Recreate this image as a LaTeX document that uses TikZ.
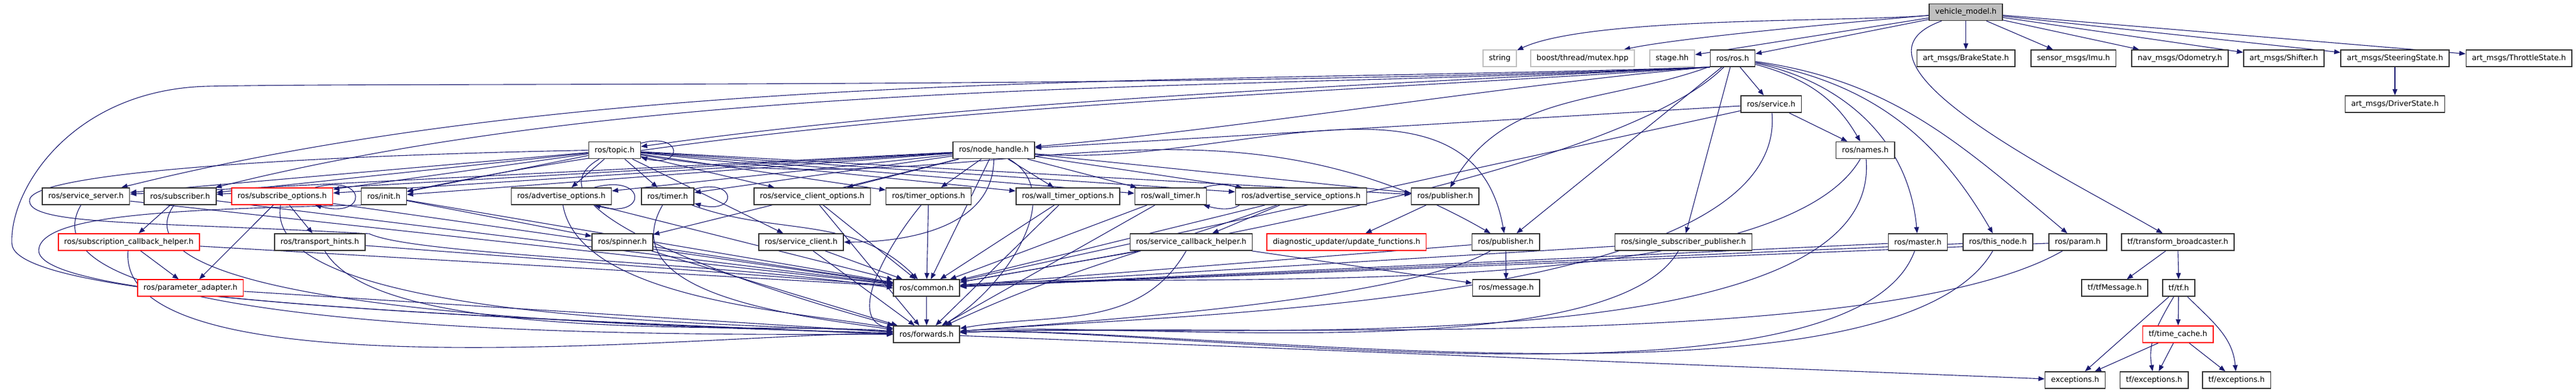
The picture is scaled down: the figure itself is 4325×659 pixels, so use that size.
\documentclass[tikz,border=0pt]{standalone}
\usepackage{fontspec}
\setmainfont{DejaVu Sans}
\usetikzlibrary{arrows.meta,backgrounds}
\definecolor{edgeblue}{HTML}{191970}
\definecolor{boxgray}{HTML}{BFBFBF}

\begin{document}
\begin{tikzpicture}[x=0.25pt,y=-0.25pt,
    file/.style={draw=black!80,line width=0.4pt,fill=white,minimum height=7pt,
        inner xsep=2.5pt,inner ysep=0pt,font=\fontsize{3.175}{3.8}\selectfont},
    redfile/.style={file,draw=red},
    sysfile/.style={file,draw=boxgray},
    rootfile/.style={file,fill=boxgray},
    dep/.style={draw=edgeblue,line width=0.28pt,-{Triangle[length=2.6pt,width=2pt]}},
    every loop/.style={min distance=7.5pt}]
    \useasboundingbox (0,0) rectangle (4325,659);

        \node[rootfile] (vm) at (3300.6,20.4) {vehicle\_model.h};

        \node[sysfile] (str) at (2518,98) {string};
        \node[sysfile] (mtx) at (2657,98) {boost/thread/mutex.hpp};
        \node[sysfile] (stg) at (2807.5,98) {stage.hh};
        \node[file] (ros) at (2909,98) {ros/ros.h};
        \node[file] (brk) at (3300.6,98) {art\_msgs/BrakeState.h};
        \node[file] (imu) at (3481.3,98) {sensor\_msgs/Imu.h};
        \node[file] (odom) at (3660,98) {nav\_msgs/Odometry.h};
        \node[file] (shft) at (3834.4,98) {art\_msgs/Shifter.h};
        \node[file] (steer) at (4021,98) {art\_msgs/SteeringState.h};
        \node[file] (thr) at (4229.2,98) {art\_msgs/ThrottleState.h};

        \node[file] (srvc) at (2973.7,175) {ros/service.h};
        \node[file] (drv) at (4021,175) {art\_msgs/DriverState.h};

        \node[file] (topic) at (1031.8,252.6) {ros/topic.h};
        \node[file] (nh) at (1668.5,252.6) {ros/node\_handle.h};
        \node[file] (names) at (3131.8,252.6) {ros/names.h};

        \node[file] (ssrv) at (144.4,330) {ros/service\_server.h};
        \node[file] (sub) at (302.4,330) {ros/subscriber.h};
        \node[redfile] (subo) at (473.7,330) {ros/subscribe\_options.h};
        \node[file] (init) at (644.5,330) {ros/init.h};
        \node[file] (advo) at (942.5,330) {ros/advertise\_options.h};
        \node[file] (timer) at (1121,330) {ros/timer.h};
        \node[file] (sco) at (1363.6,330) {ros/service\_client\_options.h};
        \node[file] (tmo) at (1559,330) {ros/timer\_options.h};
        \node[file] (wtmo) at (1793,330) {ros/wall\_timer\_options.h};
        \node[file] (wtm) at (1965.3,330) {ros/wall\_timer.h};
        \node[file] (aso) at (2184.3,330) {ros/advertise\_service\_options.h};
        \node[file] (pubA) at (2426.3,330) {ros/publisher.h};

        \node[redfile] (sch) at (216.3,407) {ros/subscription\_callback\_helper.h};
        \node[file] (thint) at (536.8,407) {ros/transport\_hints.h};
        \node[file] (spin) at (1045,407) {ros/spinner.h};
        \node[file] (sclient) at (1345,407) {ros/service\_client.h};
        \node[file] (svcb) at (2000,407) {ros/service\_callback\_helper.h};
        \node[redfile] (diag) at (2260.8,407) {diagnostic\_updater/update\_functions.h};
        \node[file] (pubB) at (2528,407) {ros/publisher.h};
        \node[file] (ssp) at (2826.5,407) {ros/single\_subscriber\_publisher.h};
        \node[file] (master) at (3220,407) {ros/master.h};
        \node[file] (thisn) at (3354.3,407) {ros/this\_node.h};
        \node[file] (param) at (3488.5,407) {ros/param.h};
        \node[file] (tfb) at (3656.5,407) {tf/transform\_broadcaster.h};

        \node[redfile] (padp) at (319.8,484.2) {ros/parameter\_adapter.h};
        \node[file] (common) at (1555.7,484.2) {ros/common.h};
        \node[file] (msg) at (2528.7,484.2) {ros/message.h};
        \node[file] (tfmsg) at (3550.5,484.2) {tf/tfMessage.h};
        \node[file] (tf) at (3658,484.2) {tf/tf.h};

        \node[file] (fwd) at (1555.7,562) {ros/forwards.h};
        \node[redfile] (tcache) at (3656.7,562) {tf/time\_cache.h};

        \node[file] (exc) at (3484,639) {exceptions.h};
        \node[file] (tfexcA) at (3616.7,639) {tf/exceptions.h};
        \node[file] (tfexcB) at (3755,639) {tf/exceptions.h};

    \begin{scope}[on background layer,every edge/.style={dep}]
        % vehicle_model.h
        \path (vm) edge[out=185,in=25,looseness=0.5] (str);
        \path (vm) edge[out=185,in=12,looseness=0.5] (mtx);
        \path (vm) edge (stg);
        \path (vm) edge (ros);
        \path (vm) edge (brk);
        \path (vm) edge (imu);
        \path (vm) edge (odom);
        \path (vm) edge (shft);
        \path (vm) edge (steer);
        \path (vm) edge (thr);
        \path (vm) edge[out=-160,in=150] (tfb);
        \path (steer) edge (drv);

        % ros/ros.h
        \path (ros) edge (srvc);
        \path (ros) edge (ssp);
        \path (ros) edge (pubB);
        \path (ros) edge[out=-160,in=60] (pubA);
        \path (ros) edge[out=-15,in=120] (names);
        \path (ros) edge[out=-12,in=95] (master);
        \path (ros) edge[out=-10,in=120] (thisn);
        \path (ros) edge[out=-8,in=140] (param);
        \path (ros.south west) edge[out=183,in=8,looseness=0.8] (topic);
        \path (ros.south west) edge[out=185,in=5,looseness=0.8] (nh);
        \path (ros.south west) edge[out=182,in=14,looseness=0.8] (ssrv);
        \path (ros.south west) edge[out=183,in=14,looseness=0.8] (sub);
        \path (ros.south west) edge[out=184,in=12,looseness=0.8] (init);
        \path (ros) edge[out=-135,in=10,looseness=0.5] (common);
        \draw[dep] (ros.south west) .. controls (2000,150) and (700,138) .. (350,145)
            .. controls (120,150) and (15,320) .. (20,410)
            .. controls (25,510) and (900,535) .. (fwd.west);

        % ros/service.h and the row below ros.h
        \path (srvc) edge (names);
        \path (srvc) edge (nh);
        \path (srvc) edge (common);
        \path (srvc) edge[out=-85,in=5,looseness=0.6] (fwd);
        \path (names) edge[out=-120,in=5,looseness=0.5] (common);
        \path (names) edge[out=-85,in=3,looseness=0.6] (fwd);
        \path (master) edge (common);
        \path (master) edge[out=-110,in=3,looseness=0.5] (fwd);
        \path (thisn) edge (common);
        \path (thisn) edge[out=-120,in=3,looseness=0.5] (fwd);
        \path (param) edge (common);
        \path (param) edge[out=-150,in=3,looseness=0.5] (fwd);
        \path (ssp) edge (common);
        \path (ssp) edge[out=-120,in=5,looseness=0.5] (fwd);

        % publishers, services
        \path (pubB) edge (msg);
        \path (pubB) edge (common);
        \path (pubB) edge[out=-150,in=5,looseness=0.5] (fwd);
        \path (pubA) edge (diag);
        \path (svcb) edge (msg);
        \path (svcb) edge (common);
        \path (svcb) edge[out=-120,in=10] (fwd);
        \path (aso) edge (svcb);
        \path (aso) edge (common);
        \path (aso) edge[out=-160,in=25] (fwd);

        % timers, clients
        \path (wtm) edge[loop right] (wtm);
        \path (wtm) edge (common);
        \path (wtm) edge (fwd);
        \path (wtmo) edge (common);
        \path (wtmo) edge (fwd);
        \path (tmo) edge (common);
        \path (tmo) edge[out=-130,in=170] (fwd);
        \path (sco) edge (common);
        \path (sco) edge (fwd);
        \path (sclient) edge (common);
        \path (sclient) edge (fwd);
        \path (timer) edge[loop right] (timer);
        \path (timer) edge[out=-20,in=135] (common);
        \path (timer) edge[out=-120,in=172] (fwd);
        \path (spin) edge (common);
        \path (spin) edge (fwd);
        \path (advo) edge[loop right] (advo);
        \path (advo) edge (common);
        \path (advo) edge[out=-80,in=170,looseness=0.7] (fwd);
        \path (init) edge (spin);
        \path (init) edge (common);
        \draw[dep] (init.south west) .. controls (300,352) and (70,360) .. (65,420)
            .. controls (60,500) and (700,530) .. (fwd.west);

        % left part
        \path (ssrv) edge (common);
        \path (ssrv) edge[out=-120,in=180,looseness=0.5] (fwd);
        \path (sub) edge (sch);
        \path (sub) edge (common);
        \path (sub) edge[out=-125,in=178,looseness=0.5] (fwd);
        \path (subo) edge[loop right] (subo);
        \path (subo) edge (padp);
        \path (subo) edge (thint);
        \path (subo) edge (common);
        \path (subo) edge[out=-100,in=176,looseness=0.5] (fwd);
        \path (sch) edge (padp);
        \path (sch) edge (common);
        \path (sch) edge[out=-95,in=179,looseness=0.5] (fwd);
        \path (thint) edge (common);
        \path (thint) edge[out=-60,in=175,looseness=0.5] (fwd);
        \path (padp) edge (fwd);

        % ros/topic.h
        \path (topic) edge[loop right] (topic);
        \path (topic) edge (ssrv);
        \path (topic) edge (sub);
        \path (topic) edge (subo);
        \path (topic) edge (init);
        \path (topic) edge (advo);
        \path (topic) edge (timer);
        \path (topic) edge (sco);
        \path (topic) edge (tmo);
        \path (topic) edge (wtmo);
        \path (topic) edge (wtm);
        \path (topic) edge (aso);
        \path (topic) edge (pubA);
        \path (topic) edge[out=-10,in=150] (pubB);
        \path (topic) edge (sclient);
        \draw[dep] (topic.west) .. controls (500,262) and (60,290) .. (50,335)
            .. controls (40,380) and (250,372) .. (620,393)
            .. controls (700,430) and (1200,440) .. (common.west);
        \path (topic) edge[out=-150,in=165,looseness=0.8] (fwd);

        % ros/node_handle.h
        \path (nh) edge (ssrv);
        \path (nh) edge (sub);
        \path (nh) edge (subo);
        \path (nh) edge (init);
        \path (nh) edge (advo);
        \path (nh) edge (timer);
        \path (nh) edge (sco);
        \path (nh) edge (tmo);
        \path (nh) edge (wtmo);
        \path (nh) edge (wtm);
        \path (nh) edge (aso);
        \path (nh) edge (pubA);
        \path (nh) edge[out=-5,in=100] (pubB);
        \path (nh) edge (spin);
        \path (nh) edge[out=-90,in=0] (sclient);
        \path (nh) edge (common);
        \path (nh) edge[out=-30,in=30] (fwd);

        % common, forwards
        \path (common) edge (fwd);
        \path (fwd) edge (exc);

        % tf
        \path (tfb) edge (tfmsg);
        \path (tfb) edge (tf);
        \path (tf) edge (exc);
        \path (tf) edge[out=-120,in=100] (tfexcA);
        \path (tf) edge (tcache);
        \path (tf) edge[out=-45,in=95] (tfexcB);
        \path (tcache) edge (exc);
        \path (tcache) edge (tfexcA);
        \path (tcache) edge (tfexcB);
    \end{scope}
\end{tikzpicture}
\end{document}
